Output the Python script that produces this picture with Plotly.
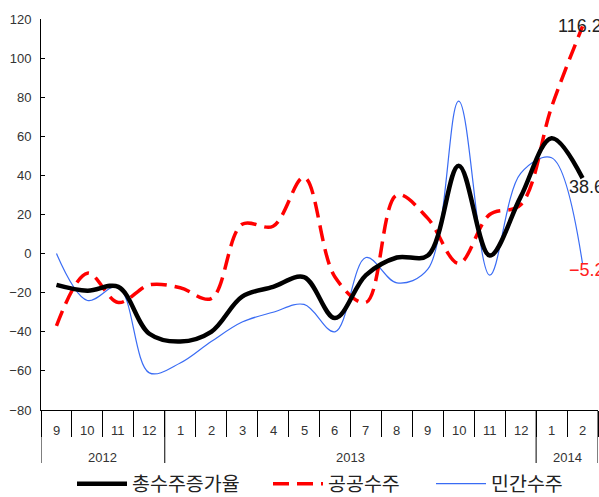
import plotly.graph_objects as go

years = ["2012"] * 4 + ["2013"] * 12 + ["2014"] * 2
months = ["9", "10", "11", "12", "1", "2", "3", "4", "5", "6", "7", "8",
          "9", "10", "11", "12", "1", "2"]

total = [-16, -19, -17, -41, -45, -40, -22, -17, -12, -33, -11, -2,
         -1, 45, -1, 29, 59, 38.6]
public = [-37, -10, -25, -16, -17.5, -23, 15, 14, 39, -12, -25, 30,
          18, -5, 20, 25, 75, 116.2]
private = [0, -24, -17, -61, -56, -45, -35, -30, -26, -40, -2, -15,
           -8, 78, -11, 41, 49, -5.2]

names = ["총수주증가율", "공공수주", "민간수주"]
end_labels = ["38.6", "116.2", "\u22125.2"]

FONT = "Liberation Sans, Arial, Noto Sans CJK KR, sans-serif"
KFONT = "Noto Sans CJK KR, Liberation Sans, sans-serif"
xs = list(range(len(months)))
last = xs[-1]
PLOT_H = 497 - 19 - 87

fig = go.Figure()
fig.add_trace(go.Scatter(
    x=xs, y=private, name=names[2], mode="lines", legend="legend3",
    line=dict(color="#3a6cf4", width=1.2, shape="spline", smoothing=1.0)))
fig.add_trace(go.Scatter(
    x=xs, y=public, name=names[1], mode="lines", legend="legend2",
    line=dict(color="#ff0000", width=3.5, dash="16px,8px", shape="spline", smoothing=1.0)))
fig.add_trace(go.Scatter(
    x=xs, y=total, name=names[0], mode="lines", legend="legend",
    line=dict(color="#000000", width=4.5, shape="spline", smoothing=1.0)))

# end-value labels
fig.add_annotation(x=last, y=public[-1], text=end_labels[1], showarrow=False,
                   xanchor="left", yanchor="middle", xshift=-27, yshift=0,
                   font=dict(size=18, color="#222", family=FONT))
fig.add_annotation(x=last, y=total[-1], text=end_labels[0], showarrow=False,
                   xanchor="left", yanchor="middle", xshift=-16, yshift=-9,
                   font=dict(size=18, color="#222", family=FONT))
fig.add_annotation(x=last, y=private[-1], text=end_labels[2], showarrow=False,
                   xanchor="left", yanchor="middle", xshift=-16, yshift=-6,
                   font=dict(size=18, color="#ff2020", family=FONT))

# month labels
for i, m in enumerate(months):
    fig.add_annotation(x=i, y=0, yref="paper", text=m, showarrow=False,
                       xanchor="center", yanchor="middle", yshift=-20,
                       font=dict(size=13, color="#333", family=FONT))

# year groups: labels and dividers
groups = []
for i, yv in enumerate(years):
    if not groups or groups[-1][0] != yv:
        groups.append([yv, i, i])
    else:
        groups[-1][2] = i
for yv, s, e in groups:
    fig.add_annotation(x=(s + e) / 2, y=0, yref="paper", text=yv, showarrow=False,
                       xanchor="center", yanchor="middle", yshift=-47,
                       font=dict(size=13, color="#333", family=FONT))
div_x = [s - 0.5 for _, s, _ in groups] + [groups[-1][2] + 0.5]
for b in div_x:
    fig.add_shape(type="line", xref="x", yref="paper", x0=b, x1=b,
                  y0=0, y1=-53 / PLOT_H, line=dict(color="black", width=1))

boundaries = [i - 0.5 for i in xs] + [last + 0.5]

leg_common = dict(orientation="h", y=-74 / PLOT_H, yanchor="middle", xanchor="left",
                  font=dict(family=KFONT, size=19.5, color="#222"),
                  itemwidth=50, bgcolor="rgba(0,0,0,0)")

fig.update_layout(
    width=599, height=497,
    margin=dict(l=41, r=1, t=19, b=87, autoexpand=False),
    paper_bgcolor="white", plot_bgcolor="white",
    font=dict(family=FONT, size=13, color="#333"),
    showlegend=True,
    legend=dict(x=(72 - 41) / 557, **leg_common),
    legend2=dict(x=(268 - 41) / 557, **leg_common),
    legend3=dict(x=(431 - 41) / 557, **leg_common),
    xaxis=dict(range=[-0.5, last + 0.5],
               showline=True, linecolor="black", linewidth=1,
               tickmode="array", tickvals=boundaries, showticklabels=False,
               ticks="outside", ticklen=26, tickcolor="black", tickwidth=1,
               showgrid=False, zeroline=False, automargin=False),
    yaxis=dict(range=[-80, 120], dtick=20, tick0=0,
               showline=True, linecolor="black", linewidth=1,
               ticks="inside", ticklen=4, tickcolor="black",
               ticklabelstandoff=6,
               showgrid=False, zeroline=False, automargin=False,
               tickfont=dict(size=13, color="#333")),
)

fig.write_html("out.html", config={"displayModeBar": False},
               post_script="document.body.style.margin='0';document.body.style.overflow='hidden';")
